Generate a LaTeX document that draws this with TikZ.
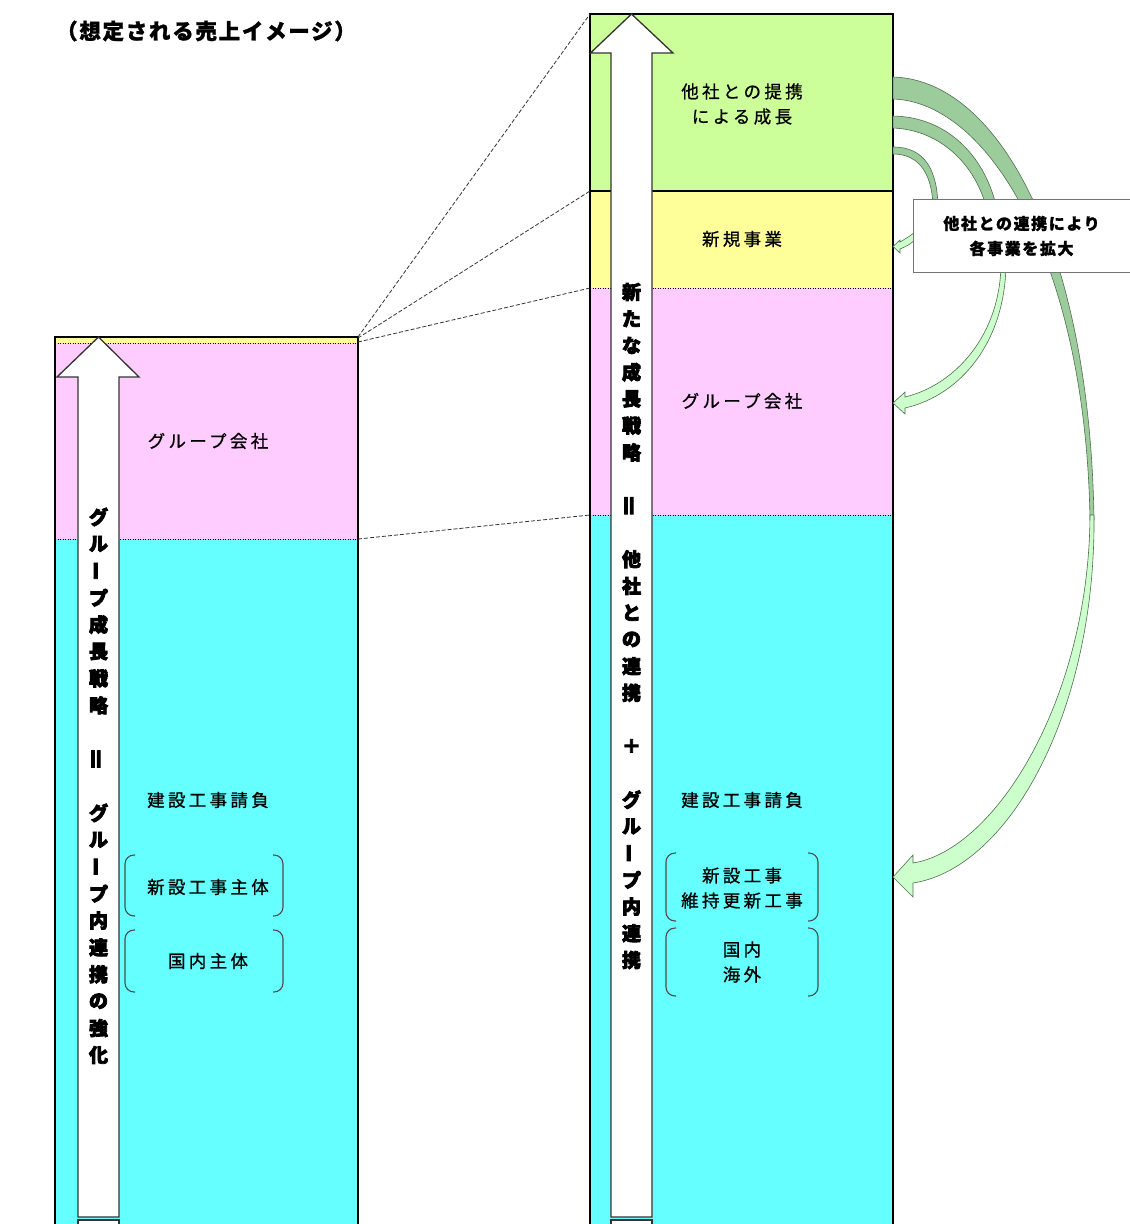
\documentclass[tikz,border=0pt]{standalone}
\usepackage{fontspec}
\setmainfont{Noto Sans CJK JP}
\newcommand\myvbar{\rotatebox{90}{ー}}
\newcommand\myveq{\rotatebox{90}{\fontsize{24}{24}\selectfont ＝}}
\newcommand\myplus{＋}
\definecolor{cyanc}{RGB}{102,255,255}
\definecolor{pinkc}{RGB}{255,204,255}
\definecolor{yelc}{RGB}{255,255,153}
\definecolor{grnc}{RGB}{204,255,153}
\definecolor{darkband}{RGB}{156,204,156}
\definecolor{lightband}{RGB}{204,255,204}
\definecolor{bandline}{RGB}{80,110,80}
\begin{document}
\begin{tikzpicture}[x=1pt,y=-1pt,
  lbl/.style={font=\fontsize{17.5}{25}\selectfont\addfontfeature{LetterSpace=19,FakeBold=0.8}, align=center, inner sep=0pt},
  vch/.style={font=\fontsize{19}{19}\selectfont\bfseries\addfontfeature{FakeBold=4}, inner sep=0pt},
  sep/.style={line width=0.7pt, dash pattern=on 1.2pt off 1.3pt},
  edge/.style={line width=1.1pt, black},
  blockarr/.style={fill=white, draw=black!80, line width=1.3pt, line join=miter},
  brk/.style={draw=black!70, line width=1.1pt, rounded corners=9pt},
  conn/.style={draw=black!80, line width=0.8pt, dash pattern=on 4pt off 2pt},
  dband/.style={fill=darkband, draw=bandline, line width=0.6pt},
  lband/.style={fill=lightband, draw=bandline, line width=0.6pt},
  callout/.style={fill=white, draw=black!55, line width=1pt, minimum width=217pt, minimum height=73pt,
    font=\fontsize{16}{25}\selectfont\bfseries\addfontfeature{LetterSpace=10,FakeBold=1.5}, align=center}
]
\useasboundingbox (0,0) rectangle (1130,1224);
\clip (0,0) rectangle (1130,1224);

% title
\node[font=\fontsize{21.5}{24}\selectfont\bfseries\addfontfeature{LetterSpace=8,FakeBold=1.2}, inner sep=0pt] (title) at (206,31) {（想定される売上イメージ）};

% ---------------- left bar
\fill[cyanc] (55,539) rectangle (358,1235);
\fill[pinkc] (55,343) rectangle (358,539);
\fill[yelc] (55,337) rectangle (358,343);
\draw[sep] (55,343) -- (358,343);
\draw[sep] (55,539) -- (358,539);
\draw[edge] (55,1235) -- (55,337) -- (358,337) -- (358,1235);

% ---------------- right bar
\fill[cyanc] (590,515) rectangle (893,1235);
\fill[pinkc] (590,288) rectangle (893,515);
\fill[yelc] (590,191) rectangle (893,288);
\fill[grnc] (590,14) rectangle (893,191);
\draw[sep] (590,288) -- (893,288);
\draw[sep] (590,515) -- (893,515);
\draw[edge] (590,191) -- (893,191);
\draw[edge] (590,1235) -- (590,14) -- (893,14) -- (893,1235);

% ---------------- dashed connectors
\coordinate (la) at (358,337);
\coordinate (lb) at (358,338);
\coordinate (lc) at (358,342);
\coordinate (ld) at (358,539);
\coordinate (ra) at (590,14);
\coordinate (rb) at (590,191);
\coordinate (rc) at (590,288);
\coordinate (rd) at (590,515);
\draw[conn] (la) -- (ra);
\draw[conn] (lb) -- (rb);
\draw[conn] (lc) -- (rc);
\draw[conn] (ld) -- (rd);

% ---------------- block arrows
\draw[blockarr] (98.5,337) -- (139,377) -- (119,377) -- (119,1217) -- (78,1217) -- (78,377) -- (57,377) -- cycle;
\draw[blockarr] (78,1220) rectangle (119,1240);
\draw[blockarr] (631.5,14) -- (673,53) -- (652,53) -- (652,1217) -- (611,1217) -- (611,53) -- (590.5,53) -- cycle;
\draw[blockarr] (611,1220) rectangle (652,1240);

% vertical texts
\foreach \c [count=\i from 0] in {グ,ル,\myvbar,プ,成,長,戦,略,,\myveq,,グ,ル,\myvbar,プ,内,連,携,の,強,化}
  \node[vch] (lv\i) at (98.5,517+\i*26.9) {\c};
\foreach \c [count=\i from 0] in {新,た,な,成,長,戦,略,,\myveq,,他,社,と,の,連,携,,\myplus,,グ,ル,\myvbar,プ,内,連,携}
  \node[vch] (rv\i) at (631.5,292+\i*26.72) {\c};

% ---------------- labels left
\node[lbl] (lgrp) at (208,441) {グループ会社};
\node[lbl] (lcon) at (208,800) {建設工事請負};
\node[lbl] (lnew) at (208,887) {新設工事主体};
\node[lbl] (ldom) at (208,961) {国内主体};
\draw[brk] (135,855) -- (125,855) -- (125,916) -- (135,916);
\draw[brk] (273,855) -- (283,855) -- (283,916) -- (273,916);
\draw[brk] (135,930) -- (125,930) -- (125,992) -- (135,992);
\draw[brk] (273,930) -- (283,930) -- (283,992) -- (273,992);

% ---------------- labels right
\node[lbl] (ralli) at (742,104) {他社との提携\\による成長};
\node[lbl] (rnewb) at (742,239) {新規事業};
\node[lbl] (rgrp) at (742,401) {グループ会社};
\node[lbl] (rcon) at (742,800) {建設工事請負};
\node[lbl] (rnew) at (742,888) {新設工事\\維持更新工事};
\node[lbl] (rdom) at (742,962) {国内\\海外};
\draw[brk] (676,853) -- (666,853) -- (666,921) -- (676,921);
\draw[brk] (808,853) -- (818,853) -- (818,921) -- (808,921);
\draw[brk] (676,928) -- (666,928) -- (666,996) -- (676,996);
\draw[brk] (808,928) -- (818,928) -- (818,996) -- (808,996);

% ---------------- curved arrows
% big one to construction
\draw[dband] (893,77) .. controls (1000,80) and (1090,250) .. (1094,520)
  -- (1090,520) .. controls (1086,265) and (990,102) .. (893,99) -- cycle;
\draw[lband] (1094,515) .. controls (1096,710) and (1010,868) .. (913,883)
  -- (913,897) -- (893,877) -- (913,855) -- (913,863)
  .. controls (995,850) and (1089,700) .. (1090,515) -- cycle;
% middle one to group companies
\draw[dband] (893,116) .. controls (950,117) and (987,160) .. (997,210)
  -- (987,210) .. controls (977,168) and (943,130) .. (893,128) -- cycle;
\draw[lband] (1006,262) .. controls (1006,340) and (962,395) .. (905,408)
  -- (905,414) -- (893,403) -- (905,392) -- (905,397)
  .. controls (955,385) and (1001,335) .. (1001,262) -- cycle;
% small one to new business
\draw[dband] (893,147) .. controls (925,147) and (938,170) .. (938,210)
  -- (933,210) .. controls (933,175) and (920,154) .. (893,154) -- cycle;
\draw[lband] (916,231) .. controls (910,236) .. (900,242)
  -- (900,240) -- (893,246.5) -- (900,253) -- (900,249)
  .. controls (909,245) .. (916,239) -- cycle;

% callout
\node[callout] (co) at (1021.5,236) {他社との連携により\\各事業を拡大};

\end{tikzpicture}
\end{document}
